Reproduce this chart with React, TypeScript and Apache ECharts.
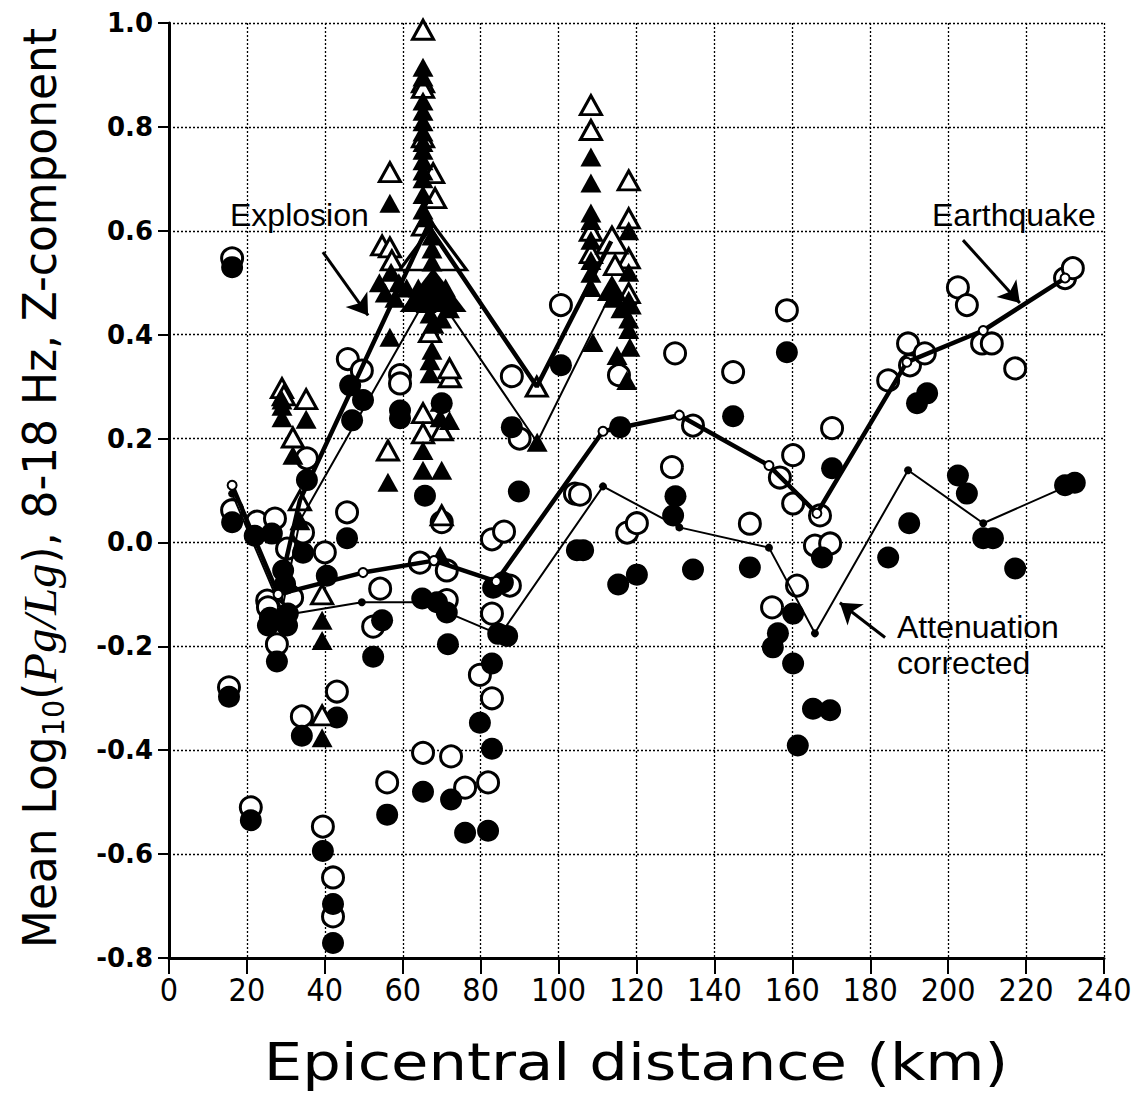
import React, { useEffect, useRef } from 'react';
import * as echarts from 'echarts';

// Earthquake, uncorrected (open circles)
const eqOpen: number[][] = [
  [16.2, 0.547], [16.2, 0.062], [15.4, -0.279], [21, -0.51],
  [22.6, 0.04], [27.2, 0.046], [30.3, -0.012], [34.4, 0.019], [40, -0.019],
  [25.2, -0.112], [25.4, -0.125], [30.3, -0.098], [31.6, -0.106], [27.7, -0.196],
  [34.1, -0.335], [43.1, -0.287], [39.5, -0.547], [42.1, -0.645], [42.1, -0.72],
  [35.4, 0.162], [45.9, 0.353], [49.5, 0.331], [59.3, 0.322], [59.3, 0.306], [45.7, 0.058],
  [54.2, -0.089], [52.4, -0.162], [64.4, -0.039], [71.3, -0.054], [71.3, -0.111], [70, 0.039],
  [65.2, -0.405], [72.4, -0.412], [56, -0.462], [76, -0.472], [81.9, -0.462], [79.8, -0.255],
  [82.9, -0.3], [82.9, -0.137], [82.9, 0.006], [86, 0.021], [87.5, -0.083], [88, 0.32], [90, 0.2],
  [100.6, 0.457], [104.2, 0.094], [105.5, 0.092], [117.6, 0.019], [120.1, 0.037], [115.5, 0.322],
  [129.9, 0.364], [134.5, 0.225], [129.1, 0.145], [144.8, 0.328], [149.1, 0.036], [154.8, -0.125],
  [156.8, 0.125], [158.6, 0.447], [160.2, 0.168], [160.2, 0.075], [161.2, -0.083], [165.8, -0.006],
  [169.7, -0.002], [167.1, 0.052], [170.2, 0.22], [184.6, 0.312], [189.7, 0.383], [190.2, 0.341],
  [194, 0.364], [202.5, 0.491], [204.8, 0.457], [208.7, 0.383], [211.2, 0.383], [217.2, 0.335],
  [230, 0.509], [232, 0.528]
];

// Earthquake, attenuation corrected (filled circles)
const eqFilled: number[][] = [
  [16.2, 0.53], [16.2, 0.039], [15.4, -0.297], [21, -0.535], [22, 0.013], [26.4, 0.017],
  [34.4, -0.02], [40.5, -0.064], [29.3, -0.054], [29.8, -0.08], [25.9, -0.145], [30.5, -0.137],
  [25.4, -0.16], [30.3, -0.16], [27.7, -0.229], [34.1, -0.372], [43.1, -0.337], [39.5, -0.594],
  [42.1, -0.696], [42.1, -0.771], [35.4, 0.12], [46.5, 0.302], [49.8, 0.274], [47, 0.235],
  [59.3, 0.254], [59.3, 0.239], [45.7, 0.008], [70, 0.268], [65.7, 0.09],
  [65, -0.108], [68.8, -0.115], [71.3, -0.135], [54.7, -0.15], [52.4, -0.22], [71.6, -0.196],
  [79.8, -0.347], [65.2, -0.48], [72.4, -0.495], [56, -0.524], [76, -0.559], [81.9, -0.555],
  [82.9, -0.233], [82.9, -0.397], [84.5, -0.176], [86.8, -0.18], [83.2, -0.087], [85.7, -0.077],
  [88, 0.222], [89.8, 0.098], [100.6, 0.341], [104.7, -0.015], [106.3, -0.015], [115.8, 0.222],
  [115.3, -0.081], [120.1, -0.062], [129.4, 0.052], [130, 0.089], [134.5, -0.052], [144.8, 0.243],
  [149.1, -0.048], [155, -0.202], [156.3, -0.175], [158.6, 0.366], [160.2, -0.137], [160.2, -0.233],
  [161.4, -0.391], [165.3, -0.32], [169.7, -0.323], [167.6, -0.029], [170.2, 0.143], [184.6, -0.029],
  [190, 0.037], [192, 0.268], [194.6, 0.287], [202.5, 0.129], [204.8, 0.094], [209, 0.008],
  [211.5, 0.008], [217.2, -0.05], [230, 0.11], [232.5, 0.115]
];

// Explosion, uncorrected (open triangles)
const exOpen: number[][] = [
  [29, 0.297], [29.5, 0.283], [35.2, 0.276], [31.8, 0.202], [33.6, 0.081], [39.3, -0.1], [39.3, -0.333],
  [56.7, 0.713], [54.7, 0.572], [56.7, 0.568], [57.2, 0.543], [56.2, 0.177],
  [65.2, 0.987], [65.2, 0.886], [65.2, 0.875], [65.2, 0.78], [67.8, 0.711], [68.3, 0.663],
  [65.2, 0.61], [67, 0.405], [72.1, 0.318], [72, 0.335], [65.2, 0.249], [65.2, 0.21],
  [70, 0.216], [70, 0.052], [94.4, 0.3],
  [108.3, 0.842], [108.3, 0.794], [108.3, 0.6], [108.3, 0.557], [118, 0.697], [118, 0.624],
  [118, 0.547], [118, 0.48], [114.5, 0.534], [118, 0.46]
];

// Explosion, attenuation corrected (filled triangles)
const exFilled: number[][] = [
  [29, 0.274], [29, 0.262], [29, 0.24], [35.2, 0.237], [31.8, 0.168], [33.6, 0.042],
  [39.3, -0.15], [39.3, -0.189], [39.3, -0.376], [56.7, 0.653], [56.2, 0.116], [56.7, 0.395],
  [54, 0.5], [55.5, 0.48], [57, 0.52], [58, 0.47], [59, 0.5], [61, 0.49],
  [65.2, 0.915], [65.2, 0.896], [65.2, 0.85], [65.2, 0.83], [65.2, 0.81], [65.2, 0.79], [65.2, 0.77],
  [65.2, 0.755], [65.2, 0.735], [65.2, 0.715], [65.2, 0.7], [65.2, 0.67], [65.2, 0.64], [66, 0.625],
  [67.5, 0.59], [67.5, 0.565], [67.5, 0.54], [63, 0.47], [64, 0.49], [66, 0.46], [67, 0.44],
  [69, 0.47], [71, 0.49], [72, 0.45], [70, 0.43], [68, 0.42], [67, 0.35], [67, 0.325], [67.5, 0.37],
  [72, 0.235], [69.6, 0.27], [69.6, 0.24], [65.2, 0.177], [65.2, 0.139], [70, 0.139], [69.6, -0.025],
  [94.5, 0.193],
  [108.3, 0.742], [108.3, 0.692], [108.3, 0.634], [108.3, 0.62], [108.3, 0.582], [108.3, 0.543],
  [108.3, 0.518], [108.3, 0.491], [118, 0.6], [118, 0.52], [118, 0.46], [118, 0.43], [118, 0.41],
  [108.8, 0.385], [115, 0.36], [118.3, 0.376], [117.5, 0.312], [116, 0.45], [114, 0.47]
];

// Explosion means (large triangles)
const exMeanOpen: number[][] = [[67.8, 0.568], [113.7, 0.582]];
const exMeanFilled: number[][] = [[67.8, 0.486], [113.7, 0.49]];

// Mean lines
const eqMeanRaw: number[][] = [
  [16.2, 0.11], [28, -0.1], [49.8, -0.058], [68, -0.035], [84, -0.075], [111.4, 0.214],
  [131, 0.245], [154, 0.148], [166.3, 0.056], [189.4, 0.347], [209, 0.408], [230, 0.509]
];
const eqMeanCorr: number[][] = [
  [16.2, 0.094], [29.5, -0.14], [49.5, -0.115], [65, -0.115], [71.5, -0.135], [85, -0.178],
  [111.4, 0.108], [131, 0.029], [154, -0.01], [165.8, -0.175], [189.7, 0.139], [209, 0.037], [231, 0.11]
];
const exMeanRaw: number[][] = [[28, -0.1], [33.6, 0.081], [66.5, 0.61], [94.4, 0.3], [113.5, 0.58]];
const exMeanCorr: number[][] = [[29, -0.13], [33.6, 0.042], [67.5, 0.49], [94.5, 0.193], [113.5, 0.48]];

// Annotation arrows (data coordinates)
const arrows: number[][][] = [
  [[39.5, 0.559], [51.1, 0.437]],
  [[203.8, 0.582], [218.4, 0.461]],
  [[183.8, -0.183], [172.2, -0.116]]
];

const X_MIN = 0, X_MAX = 240, X_STEP = 20;
const Y_MIN = -0.8, Y_MAX = 1.0, Y_STEP = 0.2;

const SANS = '"Liberation Sans", Arial, Helvetica, sans-serif';
const COND = '"DejaVu Sans Condensed", "DejaVu Sans", sans-serif';
const BOLD = '"DejaVu Sans", sans-serif';

export default function App() {
  const ref = useRef<HTMLDivElement>(null);
  useEffect(() => {
    const chart = echarts.init(ref.current!, null, { renderer: 'svg' });
    const open = { color: '#fff', borderColor: '#000', borderWidth: 3, opacity: 1 };
    const fill = { color: '#000', opacity: 1 };
    const noEmph = { disabled: true };
    chart.setOption({
      animation: false,
      backgroundColor: '#fff',
      grid: { left: 169, top: 23, width: 935, height: 935 },
      xAxis: {
        type: 'value', min: X_MIN, max: X_MAX, interval: X_STEP,
        axisLine: { show: true, onZero: false, lineStyle: { color: '#000', width: 3 } },
        axisTick: { show: true, inside: false, length: 16, lineStyle: { color: '#000', width: 2 } },
        axisLabel: { color: '#000', fontFamily: COND, fontSize: 32, margin: 16 },
        splitLine: { show: true, lineStyle: { color: '#000', width: 1.3, type: [2, 2] } }
      },
      yAxis: {
        type: 'value', min: Y_MIN, max: Y_MAX, interval: Y_STEP,
        axisLine: { show: true, onZero: false, lineStyle: { color: '#000', width: 3 } },
        axisTick: { show: true, inside: false, length: 11, lineStyle: { color: '#000', width: 2 } },
        axisLabel: {
          color: '#000', fontFamily: BOLD, fontWeight: 'bold', fontSize: 26, margin: 16,
          formatter: (v: number) => (Math.abs(v) < 1e-9 ? '0.0' : v.toFixed(1))
        },
        splitLine: { show: true, lineStyle: { color: '#000', width: 1.3, type: [2, 2] } }
      },
      graphic: [
        {
          type: 'text', x: 636, y: 1062, scaleX: 1.3, scaleY: 1,
          style: { text: 'Epicentral distance (km)', font: `52px ${COND}`, fill: '#000', align: 'center', verticalAlign: 'middle' }
        },
        {
          type: 'text', x: 40, y: 488, rotation: Math.PI / 2, scaleX: 1.06, scaleY: 1,
          style: {
            text: '{a|Mean Log}{s|10}{a|(}{i|Pg/Lg}{a|), 8-18 Hz, Z-component}',
            fill: '#000', align: 'center', verticalAlign: 'middle',
            rich: {
              a: { fontFamily: COND, fontSize: 46, fill: '#000' },
              s: { fontFamily: COND, fontSize: 30, fill: '#000', padding: [26, 0, 0, 0] },
              i: { fontFamily: '"Liberation Serif", serif', fontStyle: 'italic', fontSize: 46, fill: '#000' }
            }
          }
        },
        { type: 'text', left: 230, top: 199, style: { text: 'Explosion', font: `32px ${SANS}`, fill: '#000' } },
        { type: 'text', left: 932, top: 199, style: { text: 'Earthquake', font: `32px ${SANS}`, fill: '#000' } },
        { type: 'text', left: 897, top: 609, style: { text: 'Attenuation\ncorrected', font: `32px ${SANS}`, lineHeight: 36, fill: '#000' } }
      ],
      series: [
        { type: 'scatter', name: 'eqOpen', data: eqOpen, symbol: 'circle', symbolSize: 21, itemStyle: open, emphasis: noEmph, z: 2 },
        { type: 'scatter', name: 'eqFilled', data: eqFilled, symbol: 'circle', symbolSize: 22, itemStyle: fill, emphasis: noEmph, z: 3 },
        { type: 'scatter', name: 'exOpen', data: exOpen, symbol: 'triangle', symbolSize: [21, 19], itemStyle: open, emphasis: noEmph, z: 4 },
        { type: 'scatter', name: 'exMeanOpen', data: exMeanOpen, symbol: 'triangle',
          symbolSize: (_v: number[], p: any) => (p.dataIndex === 0 ? [67, 45] : [30, 26]), itemStyle: open, emphasis: noEmph, z: 5 },
        { type: 'scatter', name: 'exFilled', data: exFilled, symbol: 'triangle', symbolSize: [21, 19], itemStyle: fill, emphasis: noEmph, z: 6 },
        { type: 'scatter', name: 'exMeanFilled', data: exMeanFilled, symbol: 'triangle',
          symbolSize: (_v: number[], p: any) => (p.dataIndex === 0 ? [67, 44] : [30, 26]), itemStyle: fill, emphasis: noEmph, z: 7 },
        { type: 'line', name: 'eqMeanRaw', data: eqMeanRaw, symbol: 'circle', symbolSize: 9, showSymbol: true,
          lineStyle: { color: '#000', width: 4.5 }, itemStyle: { color: '#fff', borderColor: '#000', borderWidth: 2, opacity: 1 }, z: 8 },
        { type: 'line', name: 'eqMeanCorr', data: eqMeanCorr, symbol: 'circle', symbolSize: 8, showSymbol: true,
          lineStyle: { color: '#000', width: 2 }, itemStyle: { color: '#000', opacity: 1 }, z: 8 },
        { type: 'line', name: 'exMeanRaw', data: exMeanRaw, showSymbol: false, symbol: 'none',
          lineStyle: { color: '#000', width: 4.5 }, z: 8 },
        { type: 'line', name: 'exMeanCorr', data: exMeanCorr, showSymbol: false, symbol: 'none',
          lineStyle: { color: '#000', width: 2 }, z: 8 },
        { type: 'lines', coordinateSystem: 'cartesian2d', name: 'arrows',
          data: arrows.map((c) => ({ coords: c })),
          symbol: ['none', 'arrow'], symbolSize: [12, 20],
          lineStyle: { color: '#000', width: 3, opacity: 1 }, z: 9 }
      ]
    });
    return () => chart.dispose();
  }, []);
  return <div ref={ref} style={{ position: 'absolute', left: 0, top: 0, width: 1136, height: 1094, background: '#fff' }} />;
}
